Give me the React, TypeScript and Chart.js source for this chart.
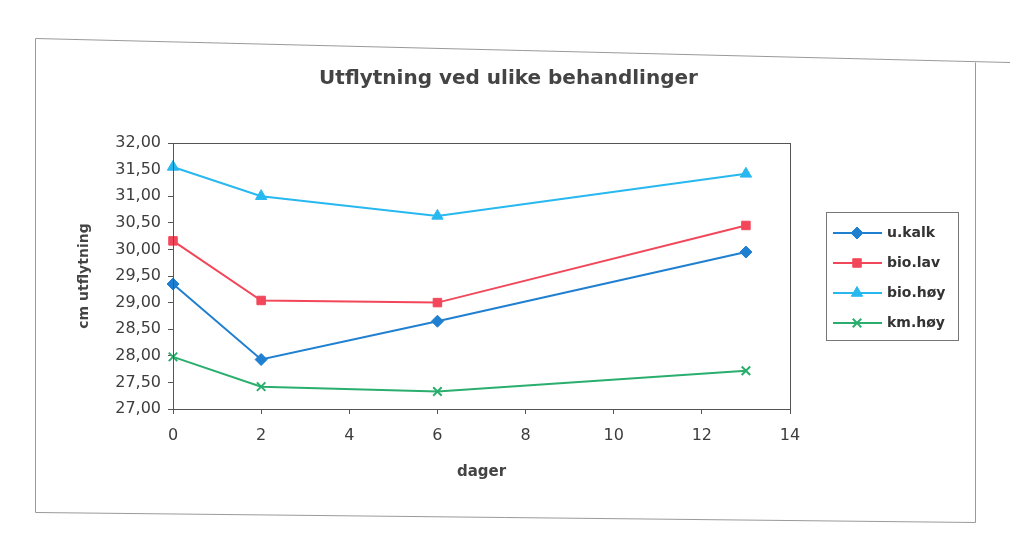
import React, { useEffect, useRef } from "react";
import { Chart, registerables } from "chart.js";

Chart.register(...registerables);

const days = [0, 2, 6, 13];
const uKalk = [29.35, 27.93, 28.65, 29.95];
const bioLav = [30.16, 29.04, 29.0, 30.45];
const bioHoy = [31.55, 31.0, 30.63, 31.42];
const kmHoy = [27.98, 27.42, 27.33, 27.72];
const seriesNames = ["u.kalk", "bio.lav", "bio.høy", "km.høy"];
const titleText = "Utflytning ved ulike behandlinger";
const yTitle = "cm utflytning";
const xTitle = "dager";

const W = 1017;
const H = 553;
const FONT = "'DejaVu Sans', 'Liberation Sans', Arial, sans-serif";

function toXY(vals: number[]) {
  return days.map((d, i) => ({ x: d, y: vals[i] }));
}

const frameAndLegend = {
  id: "frameAndLegend",
  beforeDraw(chart: any) {
    const ctx = chart.ctx;
    ctx.save();
    ctx.fillStyle = "#ffffff";
    ctx.fillRect(0, 0, W, H);
    ctx.strokeStyle = "#9a9a9a";
    ctx.lineWidth = 1;
    ctx.beginPath();
    ctx.moveTo(35.5, 38.5);
    ctx.lineTo(1010, 62.5);
    ctx.moveTo(35.5, 38.5);
    ctx.lineTo(35.5, 512.5);
    ctx.lineTo(975.5, 522.5);
    ctx.moveTo(975.5, 62.5);
    ctx.lineTo(975.5, 522.5);
    ctx.stroke();
    ctx.restore();
  },
  afterDraw(chart: any) {
    const ctx = chart.ctx;
    const a = chart.chartArea;
    ctx.save();
    ctx.strokeStyle = "#555555";
    ctx.lineWidth = 1;
    ctx.strokeRect(Math.round(a.left) + 0.5, Math.round(a.top) + 0.5, Math.round(a.right - a.left), Math.round(a.bottom - a.top));
    // legend box
    const lx = 826, ly = 212, lw = 132, lh = 128;
    ctx.strokeStyle = "#777777";
    ctx.strokeRect(lx + 0.5, ly + 0.5, lw, lh);
    chart.data.datasets.forEach((ds: any, i: number) => {
      const y = ly + 21 + i * 30;
      ctx.strokeStyle = ds.borderColor;
      ctx.lineWidth = 2;
      ctx.beginPath();
      ctx.moveTo(lx + 7, y);
      ctx.lineTo(lx + 56, y);
      ctx.stroke();
      const meta = chart.getDatasetMeta(i);
      const el = meta.data[0];
      if (el) {
        const ox = el.x, oy = el.y;
        el.x = lx + 31;
        el.y = y;
        el.draw(ctx);
        el.x = ox;
        el.y = oy;
      }
      ctx.fillStyle = "#333333";
      ctx.font = `bold 14px ${FONT}`;
      ctx.textBaseline = "middle";
      ctx.textAlign = "left";
      ctx.fillText(ds.label, lx + 61, y);
    });
    ctx.restore();
  },
};

export default function App() {
  const ref = useRef<HTMLCanvasElement | null>(null);
  useEffect(() => {
    if (!ref.current) return;
    const mk = (label: string, vals: number[], color: string, style: string, radius: number, bw = 2) => ({
      label,
      data: toXY(vals),
      borderColor: color,
      backgroundColor: color,
      pointBackgroundColor: color,
      pointBorderColor: color,
      pointStyle: style,
      pointRadius: radius,
      pointBorderWidth: style === "cross" || style === "crossRot" ? 2 : 1,
      borderWidth: bw,
      tension: 0,
      clip: false,
    });
    const chart = new Chart(ref.current, {
      type: "line",
      data: {
        datasets: [
          mk(seriesNames[0], uKalk, "#1f7fd0", "rectRot", 6),
          mk(seriesNames[1], bioLav, "#f2475a", "rect", 6),
          mk(seriesNames[2], bioHoy, "#27b8f0", "triangle", 6.5),
          mk(seriesNames[3], kmHoy, "#2aae6e", "crossRot", 6),
        ] as any,
      },
      plugins: [frameAndLegend],
      options: {
        responsive: false,
        animation: false,
        layout: { padding: 0 },
        plugins: {
          legend: { display: false },
          tooltip: { enabled: false },
          title: {
            display: true,
            text: titleText,
            color: "#444444",
            font: { family: FONT, size: 20, weight: "bold" },
            padding: { top: 67, bottom: 52 },
          },
        },
        scales: {
          x: {
            type: "linear",
            min: 0,
            max: 14,
            ticks: {
              stepSize: 2,
              color: "#3d3d3d",
              font: { family: FONT, size: 16 },
              padding: 12,
            },
            grid: { drawOnChartArea: false, drawTicks: true, tickLength: 5, color: "#555555" },
            border: { display: true, color: "#555555" },
            title: {
              display: true,
              text: xTitle,
              color: "#444444",
              font: { family: FONT, size: 15, weight: "bold" },
              padding: { top: 0, bottom: 72 },
            },
            afterFit(scale: any) {
              scale.height = H - 409;
            },
          },
          y: {
            type: "linear",
            min: 27,
            max: 32,
            ticks: {
              stepSize: 0.5,
              color: "#3d3d3d",
              font: { family: FONT, size: 16 },
              padding: 7,
              callback: (v: any) => Number(v).toFixed(2).replace(".", ","),
            },
            grid: { drawOnChartArea: false, drawTicks: true, tickLength: 5, color: "#555555" },
            border: { display: true, color: "#555555" },
            title: {
              display: true,
              text: yTitle,
              color: "#444444",
              font: { family: FONT, size: 14, weight: "bold" },
              padding: { top: 76, bottom: 0 },
            },
            afterFit(scale: any) {
              scale.width = 173;
            },
          },
          yRight: {
            type: "linear",
            position: "right",
            display: true,
            min: 27,
            max: 32,
            ticks: { display: false },
            grid: { display: false },
            border: { display: false },
            afterFit(scale: any) {
              scale.width = W - 790;
            },
          },
        },
      } as any,
    });
    return () => chart.destroy();
  }, []);
  return (
    <div style={{ position: "absolute", left: 0, top: 0, width: W, height: H, background: "#fff" }}>
      <canvas ref={ref} width={W} height={H} style={{ display: "block" }} />
    </div>
  );
}
